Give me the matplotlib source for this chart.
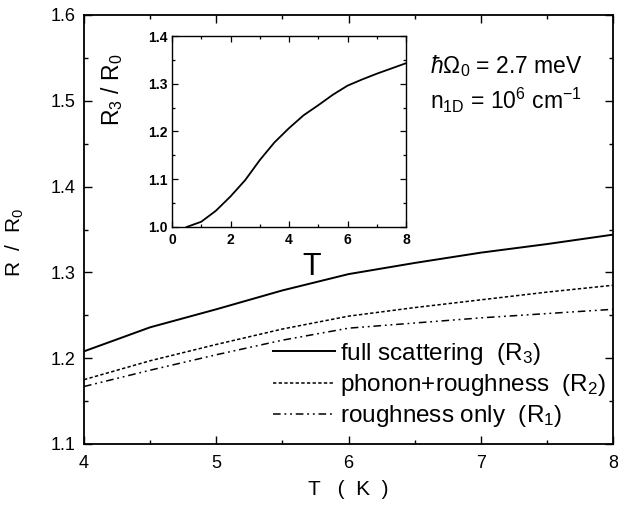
import numpy as np
import matplotlib
matplotlib.use("Agg")
import matplotlib.pyplot as plt
from matplotlib.ticker import MultipleLocator

plt.rcParams["font.family"] = ["Liberation Sans", "DejaVu Sans"]
plt.rcParams["mathtext.fontset"] = "custom"
plt.rcParams["mathtext.rm"] = "Liberation Sans"
plt.rcParams["mathtext.it"] = "Liberation Sans:italic"

# Main panel: R / R0 versus T (K)
T = [4.0, 4.5, 5.0, 5.5, 6.0, 6.5, 7.0, 7.5, 8.0]
R3 = [1.208, 1.236, 1.257, 1.279, 1.298, 1.311, 1.323, 1.333, 1.344]
R2 = [1.175, 1.197, 1.216, 1.234, 1.249, 1.259, 1.268, 1.277, 1.285]
R1 = [1.167, 1.186, 1.204, 1.221, 1.235, 1.241, 1.247, 1.252, 1.257]

# Inset: R3 / R0 over the wider range
T_in = [0.5, 1.0, 1.5, 2.0, 2.5, 3.0, 3.5, 4.0, 4.5, 5.0, 5.5, 6.0, 6.5, 7.0, 7.5, 8.0]
R3_in = [1.000, 1.011, 1.034, 1.064, 1.098, 1.140, 1.177, 1.207, 1.234, 1.255,
         1.277, 1.296, 1.309, 1.321, 1.332, 1.343]

labels = ["full scattering  (R$_3$)", "phonon+roughness  (R$_2$)", "roughness only  (R$_1$)"]

W, H = 618, 514
fig = plt.figure(figsize=(W / 100, H / 100), dpi=100)

# main axes (pixel box 84..613 x 15..444)
ax = fig.add_axes([84 / W, 1 - 444 / H, (613 - 84) / W, (444 - 15) / H])
ax.plot(T, R3, color="black", lw=1.4, label=labels[0])
ax.plot(T, R2, color="black", lw=1.1, ls=(0, (2.2, 1.5)), label=labels[1])
ax.plot(T, R1, color="black", lw=1.1, ls=(0, (5, 2.5, 1.2, 2.5, 1.2, 2.5)), label=labels[2])

ax.set_xlim(4, 8)
ax.set_ylim(1.1, 1.6)
ax.xaxis.set_major_locator(MultipleLocator(1))
ax.xaxis.set_minor_locator(MultipleLocator(0.5))
ax.yaxis.set_major_locator(MultipleLocator(0.1))
ax.yaxis.set_minor_locator(MultipleLocator(0.05))
ax.yaxis.set_major_formatter(matplotlib.ticker.FormatStrFormatter("%.1f"))
ax.tick_params(which="both", direction="in", top=True, right=True, width=1.0)
ax.tick_params(which="major", length=5.5, labelsize=13)
ax.tick_params(which="minor", length=3)
ax.tick_params(axis="x", pad=8)
ax.tick_params(axis="y", pad=6)
for s in ax.spines.values():
    s.set_linewidth(1.3)

ax.set_xlabel("T   (  K  )", fontsize=15)
ax.xaxis.set_label_coords(0.5, -0.083)
ax.set_ylabel("R  /  R$_0$", fontsize=15)
ax.yaxis.set_label_coords(-0.11, 0.47)

ax.legend(loc="center left", bbox_to_anchor=(0.357, 0.1375), frameon=False,
          fontsize=17.5, handlelength=2.55, handletextpad=0.2, labelspacing=0.22,
          borderpad=0, borderaxespad=0)

ax.text(0.655, 0.88, r"$\hbar\Omega_0$ = 2.7 meV", transform=ax.transAxes,
        fontsize=16.5, va="center", ha="left")
ax.text(0.655, 0.80, r"n$_\mathrm{1D}$ = 10$^6$ cm$^{-1}$", transform=ax.transAxes,
        fontsize=16.5, va="center", ha="left")

# inset axes (pixel box 172..406 x 36..227)
axi = fig.add_axes([172 / W, 1 - 227 / H, (406 - 172) / W, (227 - 36) / H])
axi.plot(T_in, R3_in, color="black", lw=1.3)
axi.set_xlim(0, 8)
axi.set_ylim(1.0, 1.4)
axi.xaxis.set_major_locator(MultipleLocator(2))
axi.xaxis.set_minor_locator(MultipleLocator(1))
axi.yaxis.set_major_locator(MultipleLocator(0.1))
axi.yaxis.set_minor_locator(MultipleLocator(0.05))
axi.yaxis.set_major_formatter(matplotlib.ticker.FormatStrFormatter("%.1f"))
axi.tick_params(which="both", direction="in", top=True, right=True, width=0.9)
axi.tick_params(which="major", length=4, labelsize=10)
axi.tick_params(which="minor", length=2.5)
axi.tick_params(axis="x", pad=4)
axi.tick_params(axis="y", pad=3)
for lab in axi.get_xticklabels() + axi.get_yticklabels():
    lab.set_fontweight("bold")
for s in axi.spines.values():
    s.set_linewidth(1.0)

axi.set_xlabel("T", fontsize=22)
axi.xaxis.set_label_coords(0.598, -0.13)
axi.set_ylabel("R$_3$ / R$_0$", fontsize=16.5)
axi.yaxis.set_label_coords(-0.2, 0.72)

fig.savefig("out.png", dpi=100)
